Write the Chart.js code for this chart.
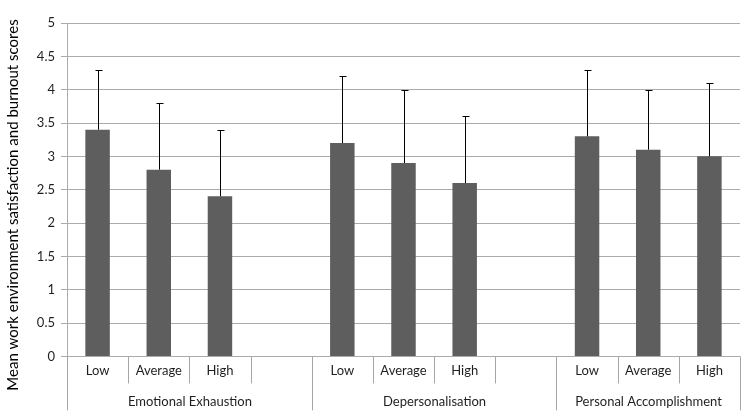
<!DOCTYPE html>
<html lang="en">
<head>
  <meta charset="UTF-8">
  <title>Work environment satisfaction and burnout</title>
  <script src="https://cdn.jsdelivr.net/npm/chart.js"></script>
  <style>
    html, body { margin: 0; padding: 0; background: #fff; }
    .chart-container { width: 744px; height: 415px; position: relative; }
  </style>
</head>
<body>
  <div class="chart-container">
    <canvas id="burnoutChart"></canvas>
  </div>
  <script>
    // categories (blank slots separate the groups, as in the original)
    const levels = ['Low', 'Average', 'High', '', 'Low', 'Average', 'High', '', 'Low', 'Average', 'High'];
    const groupNames = ['Emotional Exhaustion', 'Depersonalisation', 'Personal Accomplishment'];
    const groupStart = [0, 4, 8];
    const groupSize = [4, 4, 3];

    // mean scores and the top of each error bar
    const meanScores = [3.4, 2.8, 2.4, null, 3.2, 2.9, 2.6, null, 3.3, 3.1, 3.0];
    const errorTop = [4.3, 3.8, 3.4, null, 4.2, 4.0, 3.6, null, 4.3, 4.0, 4.1];

    const yTicks = [0, 0.5, 1, 1.5, 2, 2.5, 3, 3.5, 4, 4.5, 5];
    const yTitle = 'Mean work environment satisfaction and burnout scores';

    const FONT = 'Lato, "Open Sans", sans-serif';

    // error bars: from bar top up to errorTop
    const errorBars = {
      id: 'errorBars',
      afterDatasetsDraw(chart) {
        const ctx = chart.ctx;
        const x = chart.scales.x, y = chart.scales.y;
        ctx.save();
        ctx.strokeStyle = '#000';
        ctx.lineWidth = 1;
        errorTop.forEach((top, i) => {
          if (top == null) return;
          const px = Math.round(x.getPixelForValue(i)) + 0.5;
          const y0 = y.getPixelForValue(meanScores[i]);
          const y1 = Math.round(y.getPixelForValue(top)) + 0.5;
          ctx.beginPath();
          ctx.moveTo(px, y0);
          ctx.lineTo(px, y1);
          ctx.moveTo(px - 3, y1);
          ctx.lineTo(px + 4, y1);
          ctx.stroke();
        });
        ctx.restore();
      }
    };

    // two-level category axis + rotated y title
    const groupAxis = {
      id: 'groupAxis',
      afterDraw(chart) {
        const ctx = chart.ctx;
        const x = chart.scales.x;
        const area = chart.chartArea;
        const half = (x.getPixelForValue(1) - x.getPixelForValue(0)) / 2;
        const edge = i => Math.round(x.getPixelForValue(i) - half) + 0.5;
        const longEdges = [0, 4, 8, levels.length];
        ctx.save();
        ctx.strokeStyle = '#a6a6a6';
        ctx.lineWidth = 1;
        for (let i = 0; i <= levels.length; i++) {
          const len = longEdges.includes(i) ? 54 : 27;
          ctx.beginPath();
          ctx.moveTo(edge(i), area.bottom);
          ctx.lineTo(edge(i), area.bottom + len);
          ctx.stroke();
        }
        ctx.fillStyle = '#1f1f1f';
        ctx.font = '13px ' + FONT;
        ctx.textAlign = 'center';
        ctx.textBaseline = 'middle';
        groupNames.forEach((name, g) => {
          const a = edge(groupStart[g]);
          const b = edge(groupStart[g] + groupSize[g]);
          ctx.fillText(name, (a + b) / 2, area.bottom + 45);
        });

        ctx.translate(13, 205);
        ctx.rotate(-Math.PI / 2);
        ctx.font = '15px ' + FONT;
        ctx.fillStyle = '#000';
        ctx.fillText(yTitle, 0, 0);
        ctx.restore();
      }
    };

    const ctx = document.getElementById('burnoutChart').getContext('2d');
    new Chart(ctx, {
      type: 'bar',
      data: {
        labels: levels,
        datasets: [{
          label: 'Mean score',
          data: meanScores,
          backgroundColor: '#5e5e5e',
          borderWidth: 0,
          barPercentage: 0.4,
          categoryPercentage: 1.0
        }]
      },
      options: {
        responsive: true,
        maintainAspectRatio: false,
        animation: false,
        layout: { padding: { left: 0, right: 4, top: 23, bottom: 29 } },
        plugins: {
          legend: { display: false },
          tooltip: { enabled: false }
        },
        scales: {
          x: {
            grid: { display: false, drawTicks: false },
            border: { display: false },
            ticks: {
              padding: 7,
              color: '#1f1f1f',
              font: { family: FONT, size: 13 },
              maxRotation: 0,
              autoSkip: false
            }
          },
          y: {
            min: 0,
            max: 5,
            afterBuildTicks: axis => { axis.ticks = yTicks.map(v => ({ value: v })); },
            afterFit: axis => { axis.width = 67; },
            grid: { color: '#ababab', tickLength: 6 },
            border: { color: '#ababab' },
            ticks: {
              padding: 6,
              color: '#1f1f1f',
              font: { family: FONT, size: 13 },
              callback: v => String(v)
            }
          }
        }
      },
      plugins: [errorBars, groupAxis]
    });
  </script>
</body>
</html>
